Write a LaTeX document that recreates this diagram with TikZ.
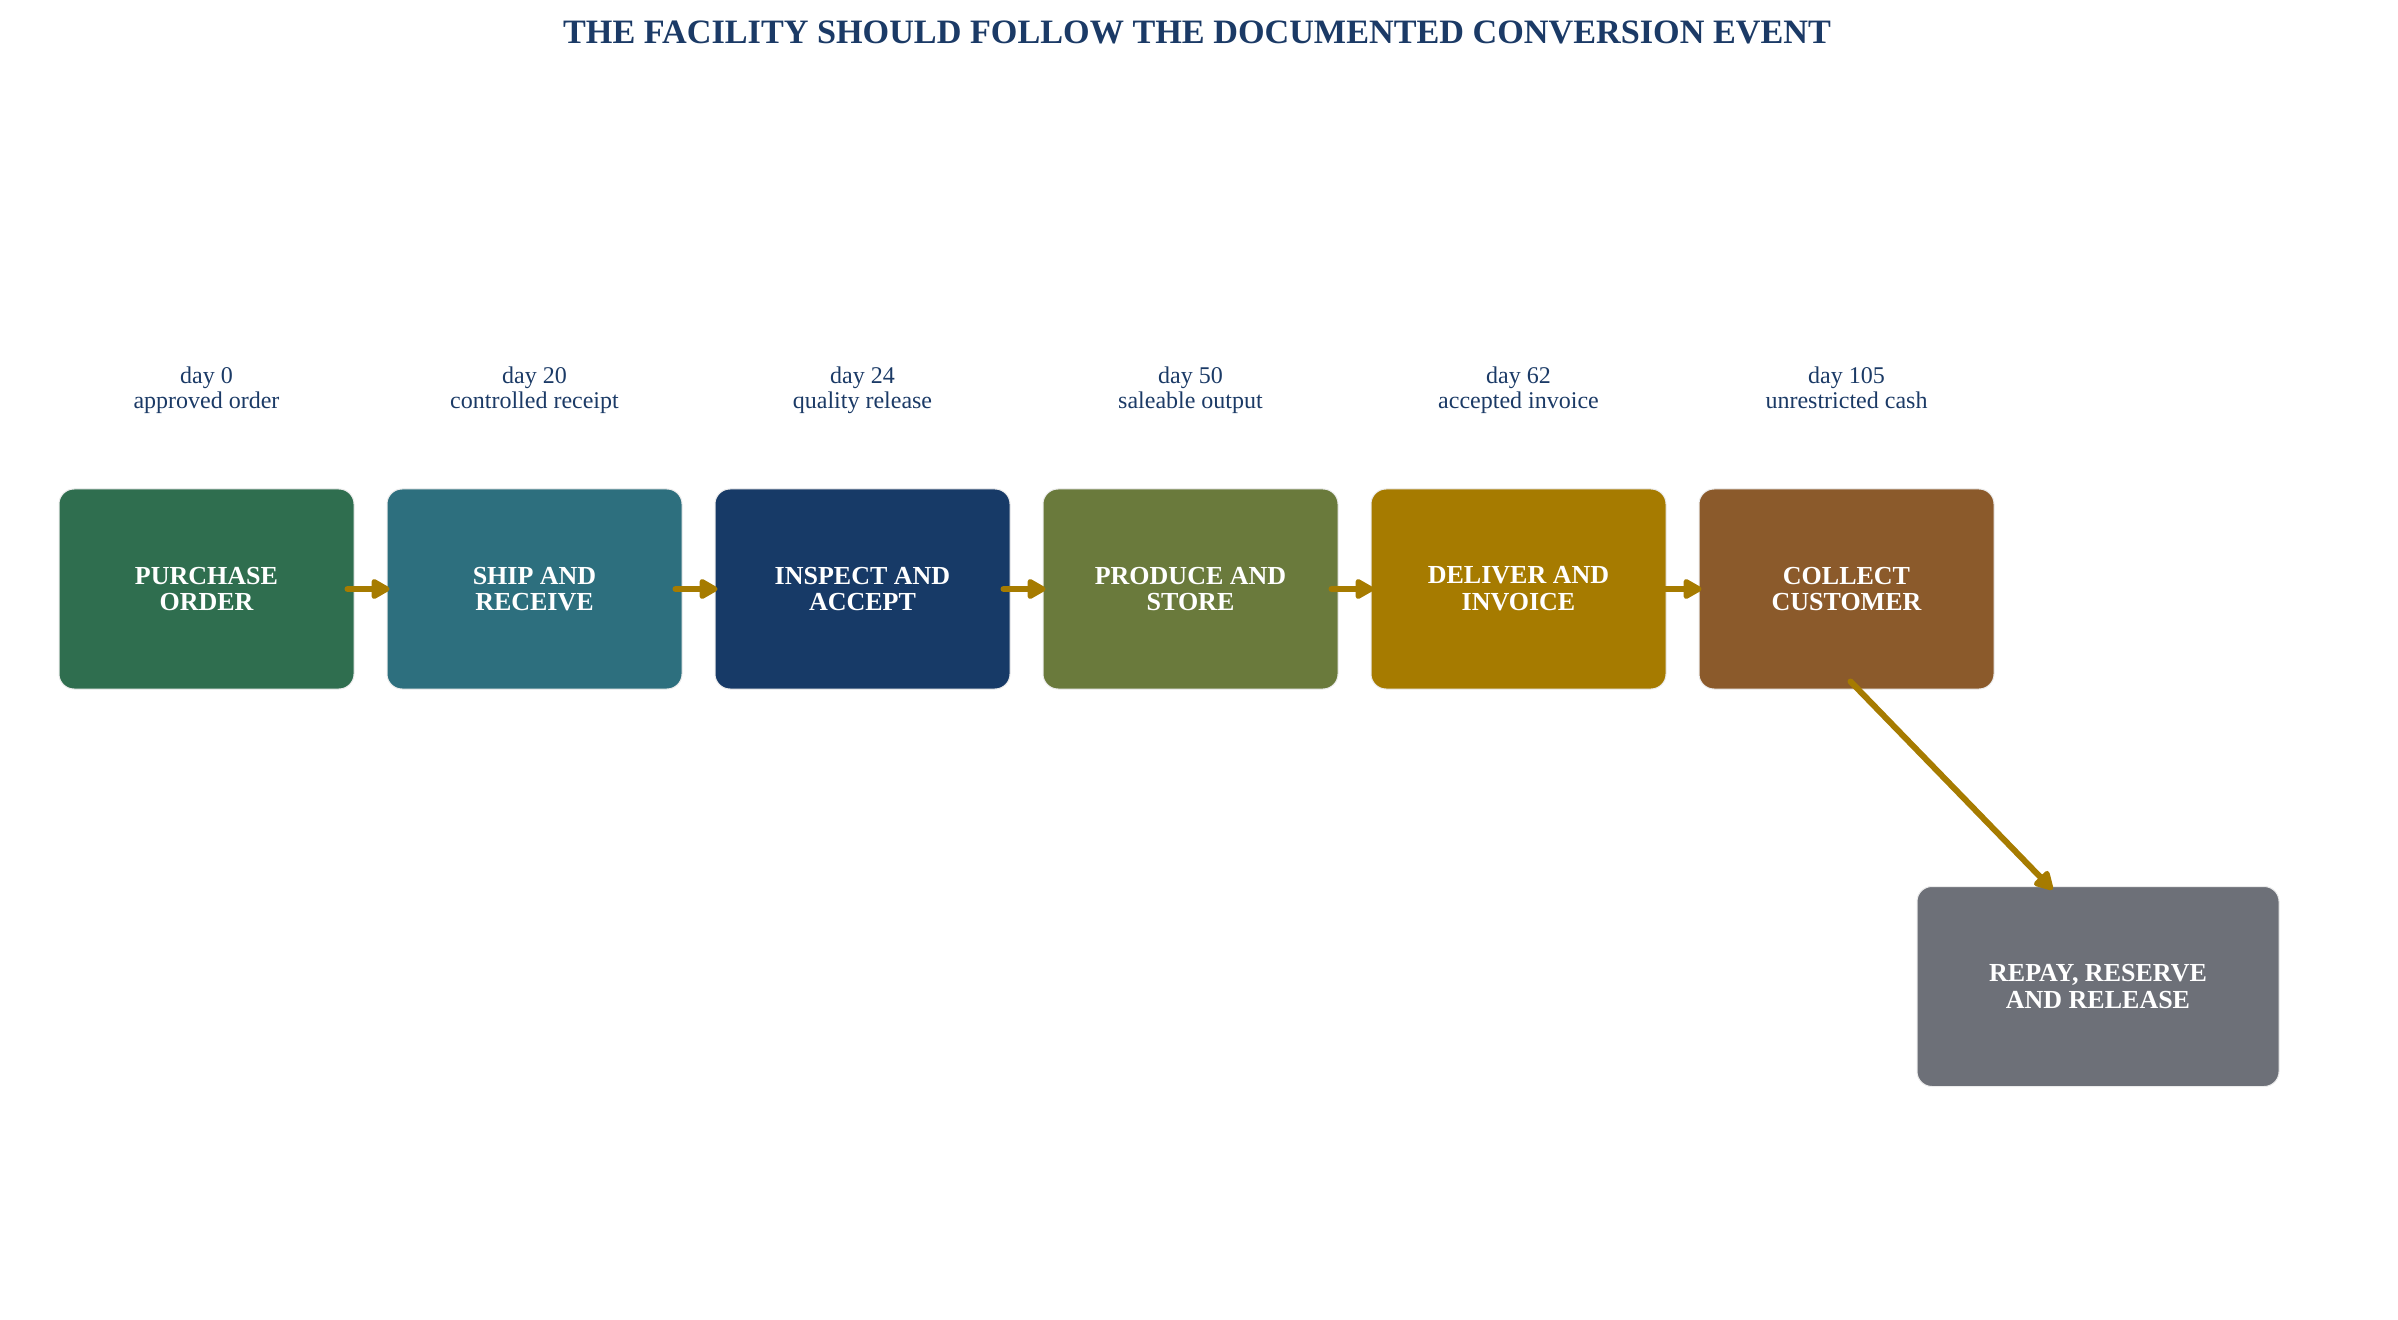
\documentclass[tikz,border=0pt]{standalone}
\usepackage{fontspec}
\setmainfont{Liberation Serif}
\usepackage{tikz}
\usetikzlibrary{positioning}
\usetikzlibrary{arrows.meta}
\definecolor{c_navy}{HTML}{1B3A66}
\definecolor{c_green}{HTML}{2F6E4F}
\definecolor{c_teal}{HTML}{2D6F7E}
\definecolor{c_blue}{HTML}{173A67}
\definecolor{c_olive}{HTML}{6A7A3C}
\definecolor{c_gold}{HTML}{A67B00}
\definecolor{c_brown}{HTML}{8B5A2B}
\definecolor{c_grey}{HTML}{6D7078}
\tikzset{
  stage_box/.style={rectangle, rounded corners = 7.5pt, draw = white!85!gray, line width = 0.5pt, minimum width = 147.5pt, minimum height = 100pt, align = center, text = white, font = \bfseries\fontsize{13}{13.4}\selectfont},
  day_label/.style={align = center, text = c_navy, inner sep = 0, font = \fontsize{12}{12.6}\selectfont},
  title_text/.style={anchor = base, text = c_navy, inner sep = 0, font = \bfseries\fontsize{17.1}{20}\selectfont},
  arrow_flow/.style={-{Triangle[length = 10.5pt, width = 11pt, round]}, line width = 3pt, line cap = round, color = c_gold, shorten <= -3.5pt, shorten >= -1.5pt},
  arrow_down/.style={arrow_flow, shorten <= 0pt, shorten >= -2.5pt}
}
\begin{document}
\begin{tikzpicture}[x = 0.5pt, y = -0.5pt]
\useasboundingbox (0,0) rectangle (2398,1320);

\node[title_text] at (1197,44) (title) {THE FACILITY SHOULD FOLLOW THE DOCUMENTED CONVERSION EVENT};

\node[stage_box, fill = c_green] at (206.5,589)  (st0) {PURCHASE\\ORDER};
\node[stage_box, fill = c_teal]  at (534.5,589)  (st1) {SHIP AND\\RECEIVE};
\node[stage_box, fill = c_blue]  at (862.5,589)  (st2) {INSPECT AND\\ACCEPT};
\node[stage_box, fill = c_olive] at (1190.5,589) (st3) {PRODUCE AND\\STORE};
\node[stage_box, fill = c_gold]  at (1518.5,589) (st4) {DELIVER AND\\INVOICE};
\node[stage_box, fill = c_brown] at (1846.5,589) (st5) {COLLECT\\CUSTOMER};
\node[stage_box, fill = c_grey, minimum width = 181pt] at (2098,986.5) (rep) {REPAY, RESERVE\\AND RELEASE};

\node[day_label] at (206.5,391)  (lb0) {day 0\strut\\approved order\strut};
\node[day_label] at (534.5,391)  (lb1) {day 20\strut\\controlled receipt\strut};
\node[day_label] at (862.5,391)  (lb2) {day 24\strut\\quality release\strut};
\node[day_label] at (1190.5,391) (lb3) {day 50\strut\\saleable output\strut};
\node[day_label] at (1518.5,391) (lb4) {day 62\strut\\accepted invoice\strut};
\node[day_label] at (1846.5,391) (lb5) {day 105\strut\\unrestricted cash\strut};

%% arrows
\draw[arrow_flow] (st0.east) -- (st1.west);
\draw[arrow_flow] (st1.east) -- (st2.west);
\draw[arrow_flow] (st2.east) -- (st3.west);
\draw[arrow_flow] (st3.east) -- (st4.west);
\draw[arrow_flow] (st4.east) -- (st5.west);

\draw[arrow_down] ([xshift = 2pt, yshift = 4pt]st5.south) -- (rep.116);

\end{tikzpicture}
\end{document}
